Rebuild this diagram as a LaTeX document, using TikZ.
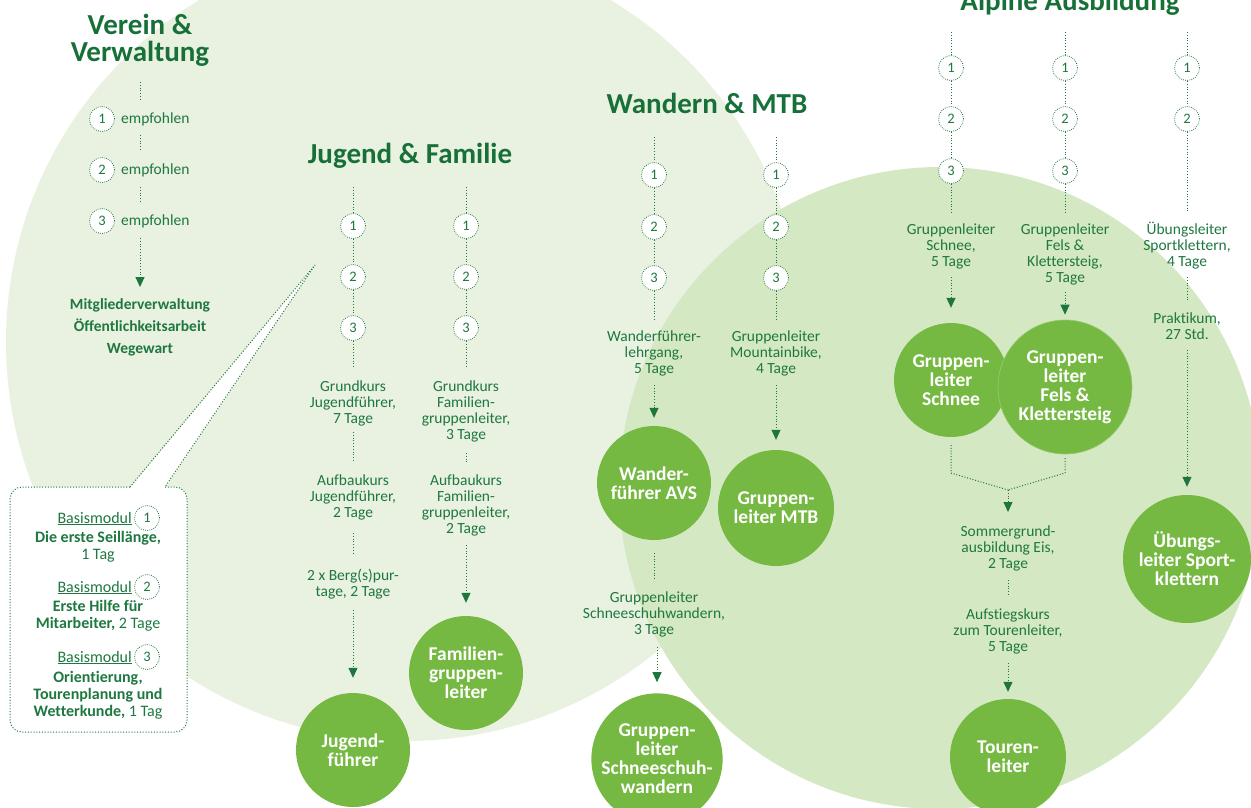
\documentclass[tikz,border=0pt]{standalone}
\usepackage{fontspec}
\setmainfont{Carlito}[Ligatures={NoCommon}]
\usetikzlibrary{arrows.meta}
\definecolor{bgL}{RGB}{233,241,224}
\definecolor{bgM}{RGB}{213,232,196}
\definecolor{nodeG}{RGB}{118,185,66}
\definecolor{textG}{RGB}{30,120,64}
\definecolor{titleG}{RGB}{22,112,56}
\definecolor{lineG}{RGB}{30,118,62}
\begin{document}
\begin{tikzpicture}[x=1pt,y=-1pt,
  txt/.style={text=textG,font=\fontsize{15.5}{16}\selectfont,align=center,inner sep=0pt},
  btxt/.style={text=textG,font=\bfseries\fontsize{15.5}{22}\selectfont,align=center,inner sep=0pt},
  boxtxt/.style={text=textG,font=\fontsize{16}{17}\selectfont,align=center,inner sep=0pt},
  ttl/.style={text=titleG,font=\bfseries\fontsize{29}{27}\selectfont,align=center,inner sep=0pt},
  num/.style={circle,draw=lineG,line width=0.8pt,dash pattern=on 0.8pt off 1.3pt,fill=white,
    minimum size=25pt,inner sep=0pt,text=textG,font=\fontsize{14.5}{14.5}\selectfont},
  bub/.style={circle,fill=nodeG,text=white,font=\bfseries\fontsize{19.5}{19}\selectfont,align=center,inner sep=0pt},
  dl/.style={draw=lineG,line width=1pt,dash pattern=on 1pt off 1.8pt},
  da/.style={dl,-{Triangle[width=9pt,length=10pt]}}
]
\useasboundingbox (0,0) rectangle (1251,807);
\clip (0,0) rectangle (1251,807);
% background circles
\fill[bgL] (405,342) circle[radius=399pt];
\fill[bgM] (940,488) circle[radius=321pt];

% callout box
\fill[white,rounded corners=12pt] (10,487) rectangle (187,732);
\fill[white] (130,488) -- (315,265) -- (165,488) -- cycle;
\draw[dl,rounded corners=12pt] (130,487) -- (10,487) -- (10,732) -- (187,732) -- (187,487) -- (165,487);
\draw[dl] (130,487) -- (315,265) -- (165,487);

% ---------- Verein & Verwaltung ----------
\node[ttl] (tV) at (140,40) {Verein \&\\Verwaltung};
\coordinate (vA) at (140,82); \coordinate (vB) at (140,100);
\draw[dl] (vA) -- (vB);
\node[num] (v1) at (102,119) {1};
\node[txt,anchor=west] (e1) at (121,119) {empfohlen};
\coordinate (vC) at (140,135); \coordinate (vD) at (140,151);
\draw[dl] (vC) -- (vD);
\node[num] (v2) at (102,170) {2};
\node[txt,anchor=west] (e2) at (121,170) {empfohlen};
\coordinate (vE) at (140,187); \coordinate (vF) at (140,203);
\draw[dl] (vE) -- (vF);
\node[num] (v3) at (102,221) {3};
\node[txt,anchor=west] (e3) at (121,221) {empfohlen};
\coordinate (vG) at (140,238); \coordinate (vH) at (140,287);
\draw[da] (vG) -- (vH);
\node[btxt] (vt) at (140,327) {Mitgliederverwaltung\\Öffentlichkeitsarbeit\\Wegewart};

% ---------- Jugend & Familie ----------
\node[ttl] (tJ) at (410,156) {Jugend \& Familie};
% Jugend column
\coordinate (jTop) at (353,187);
\node[num] (j1) at (353,226) {1};
\node[num] (j2) at (353,277) {2};
\node[num] (j3) at (353,328) {3};
\coordinate (jBot) at (353,367);
\draw[dl] (jTop) -- (j1); \draw[dl] (j1) -- (j2); \draw[dl] (j2) -- (j3); \draw[dl] (j3) -- (jBot);
\node[txt] (jt1) at (353,403) {Grundkurs\\Jugendführer,\\7 Tage};
\coordinate (jD1) at (353,432); \coordinate (jD2) at (353,462);
\draw[dl] (jD1) -- (jD2);
\node[txt] (jt2) at (353,497) {Aufbaukurs\\Jugendführer,\\2 Tage};
\coordinate (jD3) at (353,533); \coordinate (jD4) at (353,555);
\draw[dl] (jD3) -- (jD4);
\node[txt] (jt3) at (353,584) {2 x Berg(s)pur-\\tage, 2 Tage};
\coordinate (jC) at (353,610);
\node[bub,minimum size=114pt] (JF) at (353,750) {Jugend-\\führer};
\draw[da,shorten >=15pt] (jC) -- (JF);
% Familie column
\coordinate (fTop) at (466,187);
\node[num] (f1) at (466,226) {1};
\node[num] (f2) at (466,277) {2};
\node[num] (f3) at (466,328) {3};
\coordinate (fBot) at (466,367);
\draw[dl] (fTop) -- (f1); \draw[dl] (f1) -- (f2); \draw[dl] (f2) -- (f3); \draw[dl] (f3) -- (fBot);
\node[txt] (ft1) at (466,411) {Grundkurs\\Familien-\\gruppenleiter,\\3 Tage};
\coordinate (fD1) at (466,453); \coordinate (fD2) at (466,462);
\draw[dl] (fD1) -- (fD2);
\node[txt] (ft2) at (466,505) {Aufbaukurs\\Familien-\\gruppenleiter,\\2 Tage};
\coordinate (fC) at (466,545);
\node[bub,minimum size=114pt] (FG) at (466,673) {Familien-\\gruppen-\\leiter};
\draw[da,shorten >=13pt] (fC) -- (FG);

% ---------- Wandern & MTB ----------
\node[ttl] (tW) at (707,103) {Wandern \& MTB};
\coordinate (wTop) at (654,137);
\node[num] (w1) at (654,175) {1};
\node[num] (w2) at (654,227) {2};
\node[num] (w3) at (654,278) {3};
\coordinate (wBot) at (654,320);
\draw[dl] (wTop) -- (w1); \draw[dl] (w1) -- (w2); \draw[dl] (w2) -- (w3); \draw[dl] (w3) -- (wBot);
\node[txt] (wt1) at (654,353) {Wanderführer-\\lehrgang,\\5 Tage};
\coordinate (wC) at (654,385);
\node[bub,minimum size=114pt] (WA) at (654,483) {Wander-\\führer AVS};
\draw[da,shorten >=8pt] (wC) -- (WA);
\coordinate (wD1) at (654,553); \coordinate (wD2) at (654,581);
\draw[dl] (wD1) -- (wD2);
\node[txt] (wt2) at (654,614) {Gruppenleiter\\Schneeschuhwandern,\\3 Tage};
\coordinate (wE) at (657,647);
\node[bub,minimum size=124pt] (SW) at (657,759) {Gruppen-\\leiter\\Schneeschuh-\\wandern};
\draw[da,shorten >=11pt] (wE) -- (SW);
% MTB
\coordinate (mTop) at (776,137);
\node[num] (m1) at (776,175) {1};
\node[num] (m2) at (776,227) {2};
\node[num] (m3) at (776,278) {3};
\coordinate (mBot) at (776,320);
\draw[dl] (mTop) -- (m1); \draw[dl] (m1) -- (m2); \draw[dl] (m2) -- (m3); \draw[dl] (m3) -- (mBot);
\node[txt] (mt1) at (776,353) {Gruppenleiter\\Mountainbike,\\4 Tage};
\coordinate (mC) at (776,385);
\node[bub,minimum size=116pt] (MB) at (776,508) {Gruppen-\\leiter MTB};
\draw[da,shorten >=10pt] (mC) -- (MB);

% ---------- Alpine Ausbildung ----------
\node[ttl,anchor=base] (tA) at (1070,10) {Alpine Ausbildung};
% column a
\coordinate (aTop) at (951,32);
\node[num] (a1) at (951,68) {1};
\node[num] (a2) at (951,119) {2};
\node[num] (a3) at (951,171) {3};
\coordinate (aBot) at (951,213);
\draw[dl] (aTop) -- (a1); \draw[dl] (a1) -- (a2); \draw[dl] (a2) -- (a3); \draw[dl] (a3) -- (aBot);
\node[txt] (at1) at (951,246) {Gruppenleiter\\Schnee,\\5 Tage};
\coordinate (aC) at (951,277);
\node[bub,minimum size=114pt] (GS) at (951,380) {Gruppen-\\leiter\\Schnee};
\draw[da,shorten >=15pt] (aC) -- (GS);
% column b
\coordinate (bTop) at (1065,32);
\node[num] (b1) at (1065,68) {1};
\node[num] (b2) at (1065,119) {2};
\node[num] (b3) at (1065,171) {3};
\coordinate (bBot) at (1065,213);
\draw[dl] (bTop) -- (b1); \draw[dl] (b1) -- (b2); \draw[dl] (b2) -- (b3); \draw[dl] (b3) -- (bBot);
\node[txt] (bt1) at (1065,254) {Gruppenleiter\\Fels \&\\Klettersteig,\\5 Tage};
\coordinate (bC) at (1065,292);
\node[bub,minimum size=134pt,draw=nodeG!75!white,line width=0.6pt] (GF) at (1065,387) {Gruppen-\\leiter\\Fels \&\\Klettersteig};
\draw[da,shorten >=5pt] (bC) -- (GF);
% column c
\coordinate (cTop) at (1187,32);
\node[num] (c1) at (1187,68) {1};
\node[num] (c2) at (1187,119) {2};
\coordinate (cBot) at (1187,213);
\draw[dl] (cTop) -- (c1); \draw[dl] (c1) -- (c2); \draw[dl] (c2) -- (cBot);
\node[txt] (ct1) at (1187,246) {Übungsleiter\\Sportklettern,\\4 Tage};
\coordinate (cD1) at (1187,277); \coordinate (cD2) at (1187,302);
\draw[dl] (cD1) -- (cD2);
\node[txt] (ct2) at (1187,326) {Praktikum,\\27 Std.};
\coordinate (cC) at (1187,350);
\node[bub,minimum size=128pt] (UE) at (1187,559) {Übungs-\\leiter Sport-\\klettern};
\draw[da,shorten >=8pt] (cC) -- (UE);
% merge
\coordinate (gA) at (951,445); \coordinate (gA2) at (951,473);
\coordinate (gB) at (1065,458); \coordinate (gB2) at (1065,473);
\coordinate (gM) at (1008,490); \coordinate (gT) at (1008,512);
\draw[dl] (gA) -- (gA2) -- (gM);
\draw[dl] (gB) -- (gB2) -- (gM);
\draw[da] (gM) -- (gT);
\node[txt] (st1) at (1008,548) {Sommergrund-\\ausbildung Eis,\\2 Tage};
\coordinate (sD1) at (1008,580); \coordinate (sD2) at (1008,595);
\draw[dl] (sD1) -- (sD2);
\node[txt] (st2) at (1008,631) {Aufstiegskurs\\zum Tourenleiter,\\5 Tage};
\coordinate (sC) at (1008,663);
\node[bub,minimum size=116pt] (TL) at (1008,757) {Touren-\\leiter};
\draw[da,shorten >=7pt] (sC) -- (TL);

% ---------- callout box contents ----------
\node[boxtxt,anchor=base east] (bm1) at (132,523) {\underline{Basismodul}};
\node[num] (n1) at (147,518) {1};
\node[boxtxt] (bx1) at (98,547) {\textbf{Die erste Seillänge,}\\1 Tag};
\node[boxtxt,anchor=base east] (bm2) at (132,592) {\underline{Basismodul}};
\node[num] (n2) at (147,587) {2};
\node[boxtxt] (bx2) at (98,616) {\textbf{Erste Hilfe für}\\\textbf{Mitarbeiter,} 2 Tage};
\node[boxtxt,anchor=base east] (bm3) at (132,662) {\underline{Basismodul}};
\node[num] (n3) at (147,657) {3};
\node[boxtxt] (bx3) at (98,695) {\textbf{Orientierung,}\\\textbf{Tourenplanung und}\\\textbf{Wetterkunde,} 1 Tag};
\end{tikzpicture}
\end{document}
